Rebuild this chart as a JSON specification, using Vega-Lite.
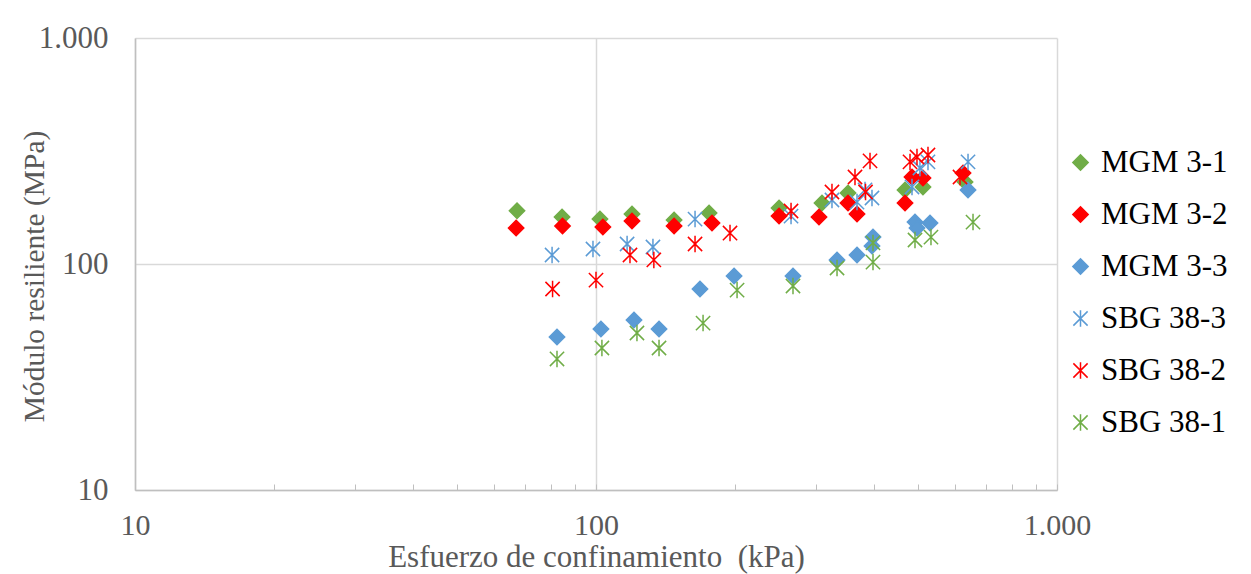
{
  "$schema": "https://vega.github.io/schema/vega-lite/v6.json",
  "width": 922,
  "height": 452,
  "autosize": "none",
  "padding": {"left": 135, "top": 38, "right": 194, "bottom": 84},
  "background": "white",
  "config": {
    "view": {"stroke": null},
    "font": "Liberation Serif"
  },
  "data": {
    "values": [
      {"series": "MGM 3-1", "x": 67.4, "y": 172},
      {"series": "MGM 3-1", "x": 84.4, "y": 161.4},
      {"series": "MGM 3-1", "x": 102, "y": 158.1},
      {"series": "MGM 3-1", "x": 119.7, "y": 166.4},
      {"series": "MGM 3-1", "x": 147.7, "y": 156.5},
      {"series": "MGM 3-1", "x": 175.9, "y": 168.1},
      {"series": "MGM 3-1", "x": 249.5, "y": 176.9},
      {"series": "MGM 3-1", "x": 309.2, "y": 186.2},
      {"series": "MGM 3-1", "x": 352.1, "y": 206.2},
      {"series": "MGM 3-1", "x": 468.1, "y": 212.6},
      {"series": "MGM 3-1", "x": 512, "y": 219.2},
      {"series": "MGM 3-1", "x": 631.7, "y": 230.6},
      {"series": "MGM 3-2", "x": 67.1, "y": 144.2},
      {"series": "MGM 3-2", "x": 84.6, "y": 147.2},
      {"series": "MGM 3-2", "x": 103.5, "y": 145.7},
      {"series": "MGM 3-2", "x": 119.7, "y": 154.9},
      {"series": "MGM 3-2", "x": 147.7, "y": 147.2},
      {"series": "MGM 3-2", "x": 178.5, "y": 151.8},
      {"series": "MGM 3-2", "x": 249.5, "y": 163.0},
      {"series": "MGM 3-2", "x": 304.6, "y": 161.4},
      {"series": "MGM 3-2", "x": 352.1, "y": 186.2},
      {"series": "MGM 3-2", "x": 368.3, "y": 166.4},
      {"series": "MGM 3-2", "x": 468.1, "y": 186.2},
      {"series": "MGM 3-2", "x": 484.7, "y": 242.7},
      {"series": "MGM 3-2", "x": 512, "y": 240.2},
      {"series": "MGM 3-2", "x": 625.4, "y": 252.7},
      {"series": "MGM 3-3", "x": 82.3, "y": 47.5},
      {"series": "MGM 3-3", "x": 102.5, "y": 51.6},
      {"series": "MGM 3-3", "x": 120.9, "y": 56.5},
      {"series": "MGM 3-3", "x": 137, "y": 51.6},
      {"series": "MGM 3-3", "x": 168.1, "y": 77.5},
      {"series": "MGM 3-3", "x": 199.3, "y": 88.5},
      {"series": "MGM 3-3", "x": 267.5, "y": 88.5},
      {"series": "MGM 3-3", "x": 333.3, "y": 104.2},
      {"series": "MGM 3-3", "x": 368.3, "y": 109.6},
      {"series": "MGM 3-3", "x": 398.9, "y": 131.6},
      {"series": "MGM 3-3", "x": 396.9, "y": 120.2},
      {"series": "MGM 3-3", "x": 492, "y": 153.3},
      {"series": "MGM 3-3", "x": 496.9, "y": 144.2},
      {"series": "MGM 3-3", "x": 530.3, "y": 151.8},
      {"series": "MGM 3-3", "x": 641.2, "y": 212.6},
      {"series": "SBG 38-3", "x": 80.3, "y": 109.6},
      {"series": "SBG 38-3", "x": 98.5, "y": 116.5},
      {"series": "SBG 38-3", "x": 116.8, "y": 122.6},
      {"series": "SBG 38-3", "x": 132.9, "y": 118.9},
      {"series": "SBG 38-3", "x": 164, "y": 158.1},
      {"series": "SBG 38-3", "x": 264.9, "y": 163.0},
      {"series": "SBG 38-3", "x": 325, "y": 191.9},
      {"series": "SBG 38-3", "x": 368.3, "y": 188.0},
      {"series": "SBG 38-3", "x": 383.3, "y": 212.6},
      {"series": "SBG 38-3", "x": 396.9, "y": 195.9},
      {"series": "SBG 38-3", "x": 484.7, "y": 219.2},
      {"series": "SBG 38-3", "x": 504.3, "y": 265.9},
      {"series": "SBG 38-3", "x": 525, "y": 282.8},
      {"series": "SBG 38-3", "x": 641.2, "y": 282.8},
      {"series": "SBG 38-2", "x": 80.5, "y": 77.5},
      {"series": "SBG 38-2", "x": 100, "y": 84.9},
      {"series": "SBG 38-2", "x": 118.5, "y": 109.6},
      {"series": "SBG 38-2", "x": 133.5, "y": 104.2},
      {"series": "SBG 38-2", "x": 164, "y": 122.6},
      {"series": "SBG 38-2", "x": 195.3, "y": 137.1},
      {"series": "SBG 38-2", "x": 264.9, "y": 171.6},
      {"series": "SBG 38-2", "x": 325, "y": 208.3},
      {"series": "SBG 38-2", "x": 364.6, "y": 242.7},
      {"series": "SBG 38-2", "x": 393, "y": 285.7},
      {"series": "SBG 38-2", "x": 384.3, "y": 208.3},
      {"series": "SBG 38-2", "x": 479.9, "y": 282.8},
      {"series": "SBG 38-2", "x": 496.9, "y": 297.5},
      {"series": "SBG 38-2", "x": 525, "y": 303.6},
      {"series": "SBG 38-2", "x": 616, "y": 242.7},
      {"series": "SBG 38-1", "x": 82.3, "y": 38.0},
      {"series": "SBG 38-1", "x": 103, "y": 42.5},
      {"series": "SBG 38-1", "x": 122.7, "y": 49.5},
      {"series": "SBG 38-1", "x": 137, "y": 42.5},
      {"series": "SBG 38-1", "x": 170.7, "y": 54.8},
      {"series": "SBG 38-1", "x": 202.3, "y": 76.7},
      {"series": "SBG 38-1", "x": 267.5, "y": 79.9},
      {"series": "SBG 38-1", "x": 333.3, "y": 96.0},
      {"series": "SBG 38-1", "x": 398.9, "y": 123.9},
      {"series": "SBG 38-1", "x": 398.9, "y": 102.0},
      {"series": "SBG 38-1", "x": 492, "y": 127.7},
      {"series": "SBG 38-1", "x": 532.9, "y": 131.6},
      {"series": "SBG 38-1", "x": 657.4, "y": 153.3}
    ]
  },
  "mark": {"type": "point", "filled": true, "size": 235, "strokeWidth": 1.5, "opacity": 1},
  "encoding": {
    "x": {
      "field": "x",
      "type": "quantitative",
      "scale": {"type": "log", "domain": [10, 1000], "nice": false},
      "axis": {
        "title": "Esfuerzo de confinamiento \u00a0(kPa)",
        "values": [10, 20, 30, 40, 50, 60, 70, 80, 90, 100, 200, 300, 400, 500, 600, 700, 800, 900, 1000],
        "labelExpr": "datum.value == 1000 ? '1.000' : (datum.value == 10 || datum.value == 100 ? format(datum.value, 'd') : '')",
        "labelOverlap": false,
        "labelFlush": false,
        "labelBound": false,
        "labelFont": "Liberation Serif",
        "labelFontSize": 30,
        "labelColor": "#595959",
        "labelPadding": 26,
        "tickSize": -6,
        "tickColor": "#BFBFBF",
        "tickWidth": 1,
        "grid": true,
        "gridColor": "#D9D9D9",
        "gridWidth": 1.5,
        "gridOpacity": {"condition": {"test": "datum.value == 10 || datum.value == 100 || datum.value == 1000", "value": 1}, "value": 0},
        "domainColor": "#BFBFBF",
        "domainWidth": 1.5,
        "titleFont": "Liberation Serif",
        "titleFontSize": 31,
        "titleFontWeight": "normal",
        "titleColor": "#595959",
        "titleBaseline": "middle",
        "titleY": 67
      }
    },
    "y": {
      "field": "y",
      "type": "quantitative",
      "scale": {"type": "log", "domain": [10, 1000], "nice": false},
      "axis": {
        "title": "Módulo resiliente (MPa)",
        "values": [10, 100, 1000],
        "labelExpr": "datum.value == 1000 ? '1.000' : format(datum.value, 'd')",
        "labelOverlap": false,
        "labelFlush": false,
        "labelBound": false,
        "labelFont": "Liberation Serif",
        "labelFontSize": 31,
        "labelColor": "#595959",
        "labelPadding": 27,
        "ticks": false,
        "grid": true,
        "gridColor": "#D9D9D9",
        "gridWidth": 1.5,
        "domainColor": "#BFBFBF",
        "domainWidth": 1.5,
        "titleFont": "Liberation Serif",
        "titleFontSize": 29.5,
        "titleFontWeight": "normal",
        "titleColor": "#595959",
        "titleBaseline": "middle",
        "titleX": -101,
        "titleY": 238
      }
    },
    "fill": {
      "field": "series",
      "type": "nominal",
      "scale": {
        "domain": ["MGM 3-1", "MGM 3-2", "MGM 3-3", "SBG 38-3", "SBG 38-2", "SBG 38-1"],
        "range": ["#70AD47", "#FF0000", "#5B9BD5", "#5B9BD5", "#FF0000", "#70AD47"]
      },
      "legend": {
        "title": null,
        "orient": "none",
        "legendX": 930,
        "legendY": 109,
        "labelFont": "Liberation Serif",
        "labelFontSize": 31,
        "labelColor": "#000000",
        "labelOffset": 5,
        "rowPadding": 20,
        "symbolSize": 235,
        "symbolStrokeWidth": 1.5,
        "padding": 0
      }
    },
    "stroke": {
      "field": "series",
      "type": "nominal",
      "scale": {
        "domain": ["MGM 3-1", "MGM 3-2", "MGM 3-3", "SBG 38-3", "SBG 38-2", "SBG 38-1"],
        "range": ["#70AD47", "#FF0000", "#5B9BD5", "#5B9BD5", "#FF0000", "#70AD47"]
      },
      "legend": {
        "title": null,
        "orient": "none",
        "legendX": 930,
        "legendY": 109,
        "labelFont": "Liberation Serif",
        "labelFontSize": 31,
        "labelColor": "#000000",
        "labelOffset": 5,
        "rowPadding": 20,
        "symbolSize": 235,
        "symbolStrokeWidth": 1.5,
        "padding": 0
      }
    },
    "shape": {
      "field": "series",
      "type": "nominal",
      "scale": {
        "domain": ["MGM 3-1", "MGM 3-2", "MGM 3-3", "SBG 38-3", "SBG 38-2", "SBG 38-1"],
        "range": [
          "diamond", "diamond", "diamond",
          "M-0.93,-0.93L0.93,0.93M-0.93,0.93L0.93,-0.93M0,-1.07L0,1.07",
          "M-0.93,-0.93L0.93,0.93M-0.93,0.93L0.93,-0.93M0,-1.07L0,1.07",
          "M-0.93,-0.93L0.93,0.93M-0.93,0.93L0.93,-0.93M0,-1.07L0,1.07"
        ]
      },
      "legend": {
        "title": null,
        "orient": "none",
        "legendX": 930,
        "legendY": 109,
        "labelFont": "Liberation Serif",
        "labelFontSize": 31,
        "labelColor": "#000000",
        "labelOffset": 5,
        "rowPadding": 20,
        "symbolSize": 235,
        "symbolStrokeWidth": 1.5,
        "padding": 0
      }
    }
  }
}
